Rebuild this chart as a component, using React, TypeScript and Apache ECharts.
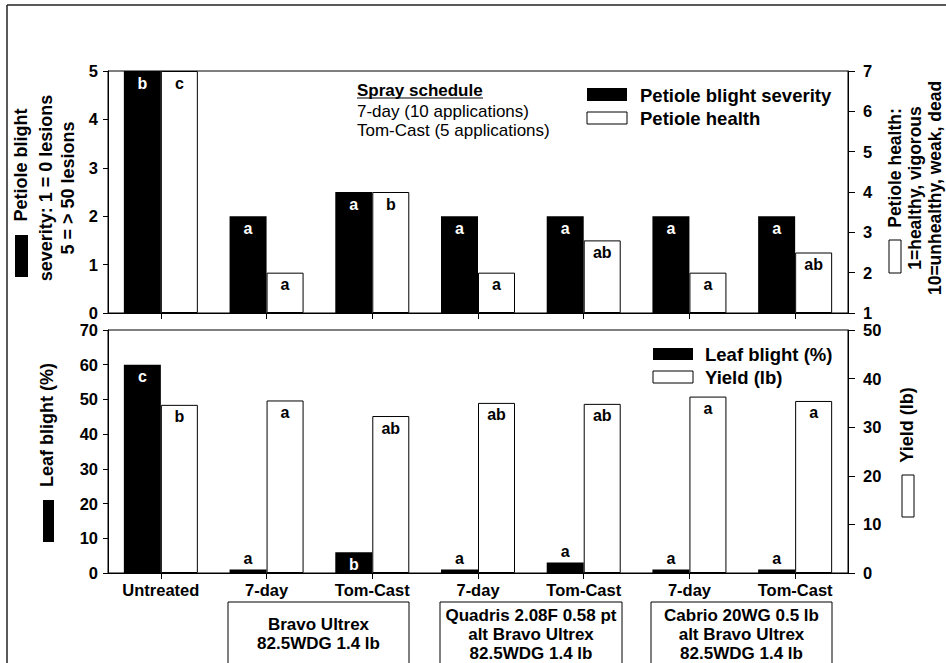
import React, { useEffect, useRef } from "react";
import * as echarts from "echarts";

const categories = ["Untreated", "7-day", "Tom-Cast", "7-day", "Tom-Cast", "7-day", "Tom-Cast"];

const petioleSeverity = [5, 2, 2.5, 2, 2, 2, 2];
const petioleSeverityLetters = ["b", "a", "a", "a", "a", "a", "a"];
const petioleHealth = [7, 2, 4, 2, 2.8, 2, 2.5];
const petioleHealthLetters = ["c", "a", "b", "a", "ab", "a", "ab"];

const leafBlight = [60, 1, 6, 1, 3, 1, 1];
const leafBlightLetters = ["c", "a", "b", "a", "a", "a", "a"];
const yieldLb = [34.6, 35.5, 32.3, 35.0, 34.8, 36.3, 35.4];
const yieldLetters = ["b", "a", "ab", "ab", "ab", "a", "a"];

const severityAxis = { min: 0, max: 5, interval: 1 };
const healthAxis = { min: 1, max: 7, interval: 1 };
const leafAxis = { min: 0, max: 70, interval: 10 };
const yieldAxis = { min: 0, max: 50, interval: 10 };

const FONT = "'Liberation Sans', Arial, Helvetica, sans-serif";

const productBoxes = [
  { text: "Bravo Ultrex\n82.5WDG 1.4 lb", x: 228, w: 181 },
  { text: "Quadris 2.08F 0.58 pt\nalt Bravo Ultrex\n82.5WDG 1.4 lb", x: 440, w: 182 },
  { text: "Cabrio 20WG 0.5 lb\nalt Bravo Ultrex\n82.5WDG 1.4 lb", x: 651, w: 181 },
];

export default function App() {
  const ref = useRef<HTMLDivElement>(null);
  useEffect(() => {
    if (!ref.current) return;
    const chart = echarts.init(ref.current, undefined, { renderer: "svg" });

    const axisCommon = {
      axisLine: { show: true, lineStyle: { color: "#000", width: 1 } },
      axisTick: { show: true, length: 6, lineStyle: { color: "#000" } },
      splitLine: { show: false },
      axisLabel: { color: "#000", fontWeight: "bold", fontSize: 16.5, fontFamily: FONT },
    };

    const barLabel = (letters: string[], color: string) => ({
      show: true,
      position: "insideTop",
      distance: 4,
      color,
      fontWeight: "bold",
      fontSize: 16,
      fontFamily: FONT,
      formatter: (p: any) => letters[p.dataIndex],
    });

    const blackStyle = { color: "#000" };
    const whiteStyle = { color: "#fff", borderColor: "#000", borderWidth: 1 };

    const rotText = (text: string, x: number, y: number, size = 18) => ({
      type: "text",
      x,
      y,
      rotation: Math.PI / 2,
      style: {
        text,
        fill: "#000",
        fontSize: size,
        fontWeight: "bold",
        fontFamily: FONT,
        align: "center",
        verticalAlign: "middle",
      },
    });
    const swatch = (x: number, y: number, w: number, h: number, black: boolean) => ({
      type: "rect",
      shape: { x, y, width: w, height: h },
      style: black ? { fill: "#000" } : { fill: "#fff", stroke: "#000", lineWidth: 1 },
    });
    const plainText = (text: string, x: number, y: number, size: number, bold: boolean) => ({
      type: "text",
      x,
      y,
      style: {
        text,
        fill: "#000",
        fontSize: size,
        fontWeight: bold ? "bold" : "normal",
        fontFamily: FONT,
        align: "left",
        verticalAlign: "middle",
      },
    });

    const graphics: any[] = [
      { type: "line", shape: { x1: 7, y1: 5, x2: 946, y2: 5 }, style: { stroke: "#222", lineWidth: 1.5 } },
      { type: "line", shape: { x1: 7, y1: 5, x2: 7, y2: 663 }, style: { stroke: "#222", lineWidth: 1.5 } },
      // spray schedule
      plainText("Spray schedule", 357, 90, 17, true),
      { type: "line", shape: { x1: 357, y1: 98, x2: 483, y2: 98 }, style: { stroke: "#000", lineWidth: 1.2 } },
      plainText("7-day (10 applications)", 357, 111, 17, false),
      plainText("Tom-Cast (5 applications)", 357, 130, 17, false),
      // top legend
      swatch(587, 88, 40, 13, true),
      plainText("Petiole blight severity", 640, 95, 18.5, true),
      swatch(587, 112, 40, 12, false),
      plainText("Petiole health", 640, 118, 18.5, true),
      // bottom legend
      swatch(653, 348, 40, 12, true),
      plainText("Leaf blight (%)", 705, 354, 18.5, true),
      swatch(653, 371, 40, 12, false),
      plainText("Yield (lb)", 705, 377, 18.5, true),
      // axis titles top-left
      swatch(15, 235, 13, 42, true),
      rotText("Petiole blight", 21, 165),
      rotText("severity: 1 = 0 lesions", 46, 188),
      rotText("5 = > 50 lesions", 68, 188),
      // top-right
      swatch(889, 240, 12, 33, false),
      rotText("Petiole health:", 895, 168, 17.5),
      rotText("1=healthy, vigorous", 915, 188, 17.5),
      rotText("10=unhealthy, weak, dead", 935, 188, 17.5),
      // bottom-left
      swatch(43, 500, 11, 42, true),
      rotText("Leaf blight (%)", 47, 425),
      // bottom-right
      swatch(902, 475, 12, 42, false),
      rotText("Yield (lb)", 907, 425),
    ];
    productBoxes.forEach((b) => {
      graphics.push({
        type: "rect",
        shape: { x: b.x, y: 602, width: b.w, height: 80 },
        style: { fill: "none", stroke: "#000", lineWidth: 1 },
      });
      graphics.push({
        type: "text",
        x: b.x + b.w / 2,
        y: 634,
        style: {
          text: b.text,
          fill: "#000",
          fontSize: 17,
          fontWeight: "bold",
          fontFamily: FONT,
          align: "center",
          verticalAlign: "middle",
          lineHeight: 19,
        },
      });
    });

    chart.setOption({
      animation: false,
      backgroundColor: "#fff",
      textStyle: { fontFamily: FONT },
      grid: [
        { left: 108, top: 71, width: 740, height: 242, show: true, borderColor: "#000", borderWidth: 1 },
        { left: 108, top: 330, width: 740, height: 243, show: true, borderColor: "#000", borderWidth: 1 },
      ],
      xAxis: [
        {
          ...axisCommon,
          type: "category",
          gridIndex: 0,
          data: categories,
          axisTick: { show: true, alignWithLabel: true, length: 6, lineStyle: { color: "#000" } },
          axisLabel: { show: false },
        },
        {
          ...axisCommon,
          type: "category",
          gridIndex: 1,
          data: categories,
          axisTick: { show: true, alignWithLabel: true, length: 6, lineStyle: { color: "#000" } },
          axisLabel: { ...axisCommon.axisLabel, margin: 8 },
        },
      ],
      yAxis: [
        {
          ...axisCommon,
          type: "value",
          gridIndex: 0,
          position: "left",
          ...severityAxis,
          axisTick: { show: true, length: 5, lineStyle: { color: "#000" } },
          axisLabel: { ...axisCommon.axisLabel, margin: 10 },
        },
        {
          ...axisCommon,
          type: "value",
          gridIndex: 0,
          position: "right",
          min: 0,
          max: healthAxis.max - healthAxis.min,
          interval: healthAxis.interval,
          axisTick: { show: true, length: 7, lineStyle: { color: "#000" } },
          axisLabel: {
            ...axisCommon.axisLabel,
            margin: 15,
            formatter: (v: number) => String(v + healthAxis.min),
          },
        },
        {
          ...axisCommon,
          type: "value",
          gridIndex: 1,
          position: "left",
          ...leafAxis,
          axisTick: { show: true, length: 5, lineStyle: { color: "#000" } },
          axisLabel: { ...axisCommon.axisLabel, margin: 10 },
        },
        {
          ...axisCommon,
          type: "value",
          gridIndex: 1,
          position: "right",
          ...yieldAxis,
          axisTick: { show: true, length: 7, lineStyle: { color: "#000" } },
          axisLabel: { ...axisCommon.axisLabel, margin: 15 },
        },
      ],
      series: [
        {
          name: "Petiole blight severity",
          type: "bar",
          xAxisIndex: 0,
          yAxisIndex: 0,
          barWidth: 37,
          barGap: "0%",
          data: petioleSeverity,
          itemStyle: blackStyle,
          label: barLabel(petioleSeverityLetters, "#fff"),
        },
        {
          name: "Petiole health",
          type: "bar",
          xAxisIndex: 0,
          yAxisIndex: 1,
          barWidth: 37,
          barGap: "0%",
          data: petioleHealth.map((v) => v - healthAxis.min),
          itemStyle: whiteStyle,
          label: barLabel(petioleHealthLetters, "#000"),
        },
        {
          name: "Leaf blight (%)",
          type: "bar",
          xAxisIndex: 1,
          yAxisIndex: 2,
          barWidth: 37,
          barGap: "0%",
          data: leafBlight.map((v) => ({
            value: v,
            label: v > 4 ? { position: "insideTop", color: "#fff" } : { position: "top", color: "#000", distance: 3 },
          })),
          itemStyle: blackStyle,
          label: barLabel(leafBlightLetters, "#fff"),
        },
        {
          name: "Yield (lb)",
          type: "bar",
          xAxisIndex: 1,
          yAxisIndex: 3,
          barWidth: 37,
          barGap: "0%",
          data: yieldLb,
          itemStyle: whiteStyle,
          label: barLabel(yieldLetters, "#000"),
        },
      ],
      graphic: graphics,
    });
    return () => chart.dispose();
  }, []);
  return (
    <div
      ref={ref}
      style={{ position: "absolute", left: 0, top: 0, width: 946, height: 663, background: "#fff" }}
    />
  );
}
